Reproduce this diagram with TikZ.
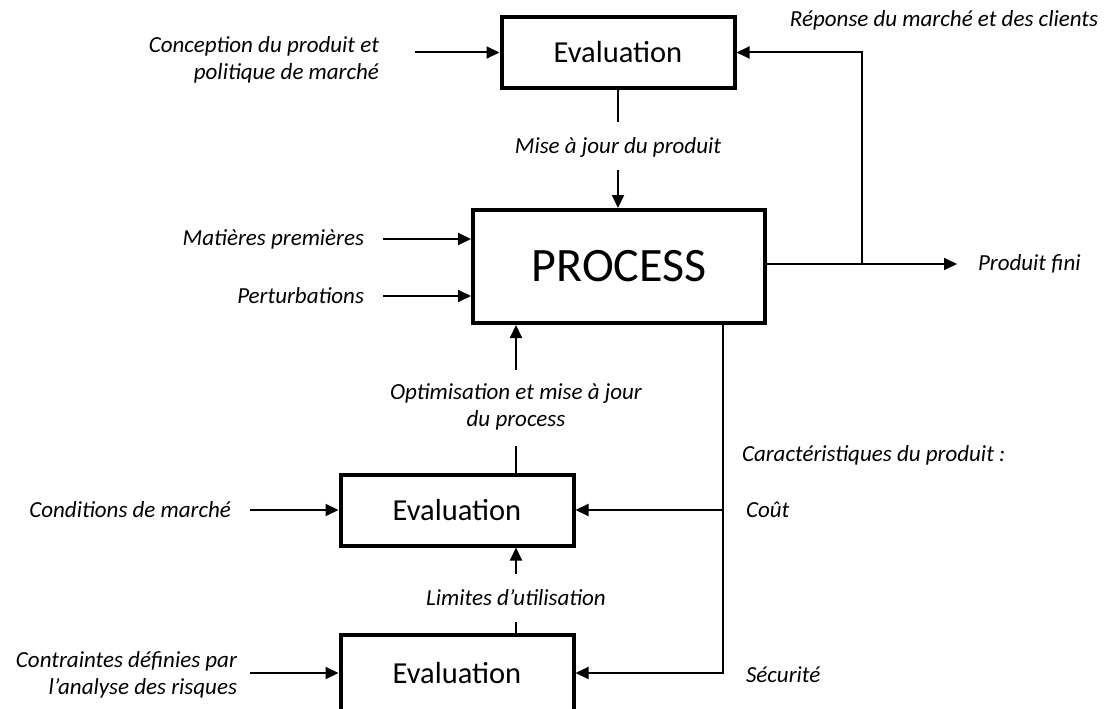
\documentclass[tikz,border=0pt]{standalone}
\usepackage{fontspec}
\setmainfont{Carlito}
\usetikzlibrary{arrows.meta,positioning}

\begin{document}
\begin{tikzpicture}[x=1pt,
            y=-1pt,
            >={Triangle[length=13pt,width=12pt]},
            line width=2pt,
            box/.style={draw, line width=4pt, minimum width=233pt,
                        minimum height=71pt,
                        font=\fontsize{30.5}{36}\selectfont},
            lbl/.style={font=\fontsize{23}{27}\selectfont\itshape,
                        inner sep=0pt, align=center}]

        \useasboundingbox (0,0) rectangle (1109,709);

        % boxes
        \node[box]                     (eval1) at (618,52.5)   {Evaluation};
        \node[box, minimum width=292pt, minimum height=113pt,
              font=\fontsize{48}{56}\selectfont]
                                       (proc)  at (619,266.5)  {PROCESS};
        \node[box]                     (eval2) at (457,510)    {Evaluation};
        \node[box, minimum height=76pt] (eval3) at (457,673)   {Evaluation};

        % labels
        \node[lbl, align=right, anchor=east] (concep) at (380,59.5)
              {Conception du produit et\\politique de marché};
        \node[lbl, anchor=east]  (matp)   at (365,239) {Matières premières};
        \node[lbl, anchor=east]  (pert)   at (365,296) {Perturbations};
        \node[lbl, anchor=east]  (condm)  at (232,510) {Conditions de marché};
        \node[lbl, align=right, anchor=east] (contr) at (238,675)
              {Contraintes définies par\\l’analyse des risques};
        \node[lbl]               (rep)    at (944,20)  {Réponse du marché et des clients};
        \node[lbl]               (maj)    at (618,147) {Mise à jour du produit};
        \node[lbl, anchor=west]  (pfini)  at (977,264) {Produit fini};
        \node[lbl]               (optim)  at (516,407)
              {Optimisation et mise à jour\\du process};
        \node[lbl, anchor=west]  (carac)  at (741,455) {Caractéristiques du produit :};
        \node[lbl, anchor=west]  (cout)   at (745,510) {Coût};
        \node[lbl, anchor=west]  (secu)   at (745,675) {Sécurité};
        \node[lbl]               (limu)   at (516,598) {Limites d’utilisation};

        % free ends
        \coordinate (concep-in) at (415,52.5);
        \coordinate (matp-in)   at (383,239);
        \coordinate (pert-in)   at (383,296);
        \coordinate (condm-in)  at (250,510);
        \coordinate (contr-in)  at (250,673);
        \coordinate (maj-top)   at (618,122);
        \coordinate (maj-bot)   at (618,170);
        \coordinate (split)     at (862,264);
        \coordinate (pfini-end) at (957,264);
        \coordinate (optim-bot) at (516,370);
        \coordinate (optim-top) at (516,446);
        \coordinate (limu-bot)  at (516,574);
        \coordinate (limu-top)  at (516,622);
        \coordinate (carac-x)   at (723,0);

        % connectors
        \draw[->] (concep-in) -- (eval1.west);
        \draw[->] (matp-in)   -- (matp-in -| proc.west);
        \draw[->] (pert-in)   -- (pert-in -| proc.west);
        \draw[->] (condm-in)  -- (eval2.west);
        \draw[->] (contr-in)  -- (eval3.west);

        \draw     (eval1.south) -- (maj-top);
        \draw[->] (maj-bot) -- (maj-bot |- proc.north);

        \draw[->] (proc.east |- split) -- (pfini-end);
        \draw[->] (split) |- (eval1.east);

        \draw[->] (optim-bot) -- (optim-bot |- proc.south);
        \draw     (optim-top) -- (optim-top |- eval2.north);
        \draw[->] (limu-bot)  -- (limu-bot |- eval2.south);
        \draw     (limu-top)  -- (limu-top |- eval3.north);

        \draw[->] (proc.south -| carac-x) |- (eval3.east);
        \draw[->] (eval2.east -| carac-x) -- (eval2.east);

    \end{tikzpicture}
\end{document}
